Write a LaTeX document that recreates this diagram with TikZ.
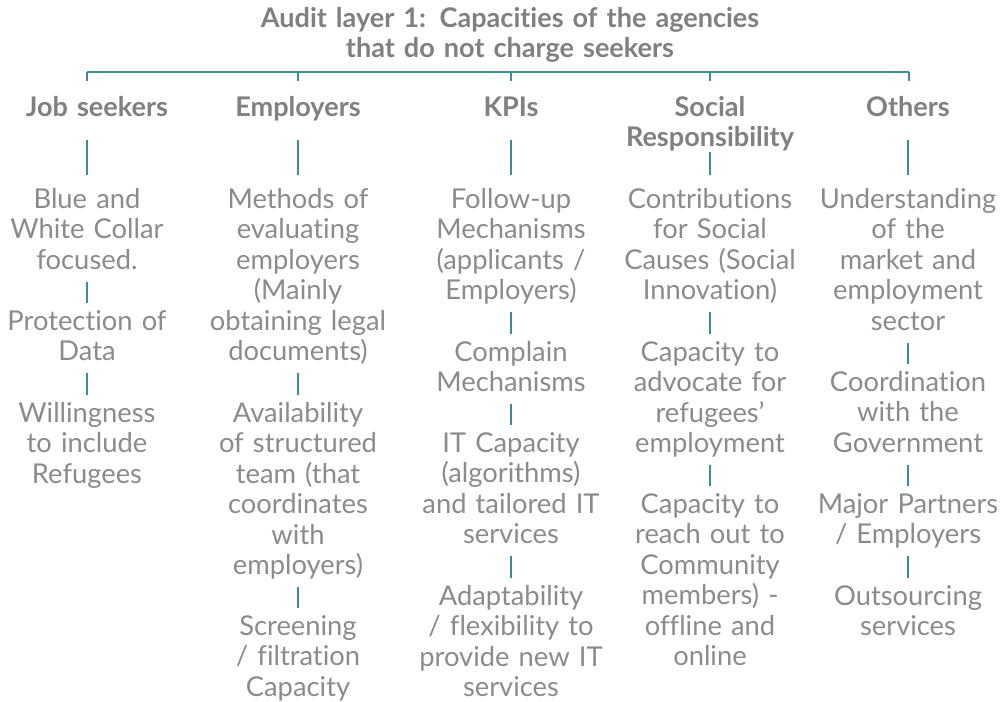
\documentclass[tikz,border=0pt]{standalone}
\usepackage{fontspec}
\setmainfont{Lato}[Ligatures=CommonOff]
\definecolor{tealc}{HTML}{3B8E99}
\definecolor{bodyc}{HTML}{8A8B8C}
\definecolor{headc}{HTML}{7E8083}
\begin{document}
\begin{tikzpicture}[x=0.75pt,y=-0.75pt,
  item/.style={anchor=base, align=center, text width=210pt, inner sep=0pt, text=bodyc,
    font=\fontsize{20.5}{22.875}\selectfont,
    execute at begin node=\strut, execute at end node=\strut},
  head/.style={anchor=base, align=center, text width=200pt, inner sep=0pt, text=headc,
    font=\fontsize{20.3}{22.9}\selectfont\bfseries,
    execute at begin node=\strut, execute at end node=\strut},
  conn/.style={draw=tealc, line width=1.5pt},
  bar/.style={conn, shorten <=2.5pt, shorten >=4pt},
  hbar/.style={conn, shorten <=11.25pt, shorten >=8.7pt}]
\useasboundingbox (0,0) rectangle (1002,701);
% title
\node[head, text width=600pt] (title) at (510,27) {Audit layer 1: Capacities of the agencies\\that do not charge seekers};
% top rule
\coordinate (r1) at (87,72);
\coordinate (r2) at (298,72);
\coordinate (r3) at (511,72);
\coordinate (r4) at (710,72);
\coordinate (r5) at (909,72);
\coordinate (k1) at (87,81);
\coordinate (k2) at (298,81);
\coordinate (k3) at (511,81);
\coordinate (k4) at (710,81);
\coordinate (k5) at (909,81);
\draw[conn] (r1) -- (r5);
\foreach \i in {1,...,5} \draw[conn] (r\i) -- (k\i);
% column heads
\node[head] (h1) at (97,116) {Job seekers};
\node[head] (h2) at (298,116) {Employers};
\node[head] (h3) at (511,116) {KPIs};
\node[head] (h4) at (710,116) {Social\\Responsibility};
\node[head] (h5) at (908,116) {Others};
% column 1
\node[item] (a1) at (87,208) {Blue and\\White Collar\\focused.};
\node[item] (a2) at (87,330) {Protection of\\Data};
\node[item] (a3) at (87,422) {Willingness\\to include\\Refugees};
% column 2
\node[item] (b1) at (298,208) {Methods of\\evaluating\\employers\\(Mainly\\obtaining legal\\documents)};
\node[item] (b2) at (298,422) {Availability\\of structured\\team (that\\coordinates\\with\\employers)};
\node[item] (b3) at (298,635) {Screening\\/ filtration\\Capacity};
% column 3
\node[item] (c1) at (511,208) {Follow-up\\Mechanisms\\(applicants /\\Employers)};
\node[item] (c2) at (511,361) {Complain\\Mechanisms};
\node[item] (c3) at (511,452) {IT Capacity\\(algorithms)\\and tailored IT\\services};
\node[item] (c4) at (511,605) {Adaptability\\/ flexibility to\\provide new IT\\services};
% column 4
\node[item] (d1) at (710,208) {Contributions\\for Social\\Causes (Social\\Innovation)};
\node[item] (d2) at (710,361) {Capacity to\\advocate for\\refugees’\\employment};
\node[item] (d3) at (710,513) {Capacity to\\reach out to\\Community\\members) -\\offline and\\online};
% column 5
\node[item] (e1) at (908,208) {Understanding\\of the\\market and\\employment\\sector};
\node[item] (e2) at (908,391) {Coordination\\with the\\Government};
\node[item] (e3) at (908,513) {Major Partners\\/ Employers};
\node[item] (e4) at (908,605) {Outsourcing\\services};
% head bars
\draw[hbar] (h1.south -| a1.north) -- (a1.north);
\draw[hbar] (h2.south) -- (b1.north);
\draw[hbar] (h3.south) -- (c1.north);
\draw[conn, shorten <=-3pt, shorten >=8.7pt] (h4.south) -- (d1.north);
\draw[hbar] (h5.south) -- (e1.north);
% item bars
\draw[bar] (a1) -- (a2);
\draw[bar] (a2) -- (a3);
\draw[bar] (b1) -- (b2);
\draw[bar] (b2) -- (b3);
\draw[bar] (c1) -- (c2);
\draw[bar] (c2) -- (c3);
\draw[bar] (c3) -- (c4);
\draw[bar] (d1) -- (d2);
\draw[bar] (d2) -- (d3);
\draw[bar] (e1) -- (e2);
\draw[bar] (e2) -- (e3);
\draw[bar] (e3) -- (e4);
\end{tikzpicture}
\end{document}
